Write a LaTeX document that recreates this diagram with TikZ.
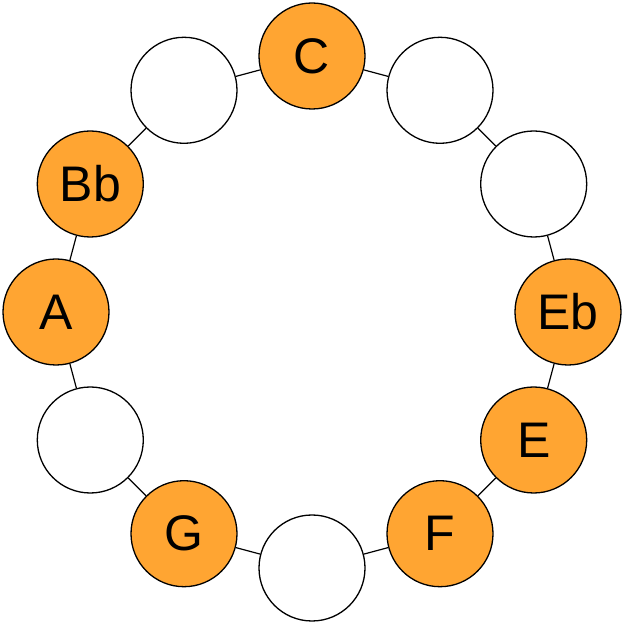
\documentclass[tikz,border=0pt]{standalone}
\usepackage{fontspec}
\setmainfont{Liberation Sans}
\definecolor{noteorange}{RGB}{255,165,50}
\begin{document}
\begin{tikzpicture}[x=1pt,y=1pt,
  note/.style={circle,draw=black,line width=1.3pt,minimum size=106pt,inner sep=0pt,font=\fontsize{50}{58}\selectfont},
  on/.style={note,fill=noteorange},
  off/.style={note,fill=white},
  link/.style={draw=black,line width=1.2pt}]
\useasboundingbox (0,0) rectangle (624,624);
\foreach \i/\s/\t in {0/on/C,1/off/{},2/off/{},3/on/Eb,4/on/E,5/on/F,6/off/{},7/on/G,8/off/{},9/on/A,10/on/Bb,11/off/{}}{
  \node[\s] (n\i) at ({312+256*cos(90-30*\i)},{312+256*sin(90-30*\i)}) {\t};
}
\foreach \i [evaluate=\i as \j using {int(mod(\i+1,12))}] in {0,...,11}{
  \draw[link] (n\i) -- (n\j);
}
\end{tikzpicture}
\end{document}
